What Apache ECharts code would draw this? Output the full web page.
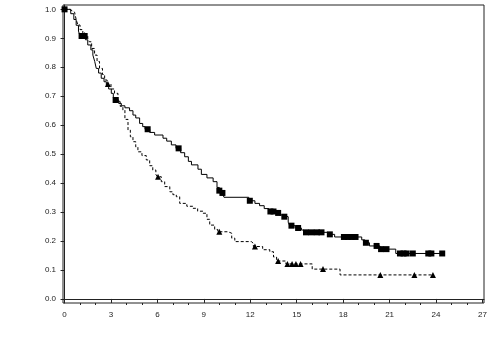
<!DOCTYPE html>
<html>
<head>
<meta charset="utf-8">
<script src="https://cdn.jsdelivr.net/npm/echarts@6/dist/echarts.min.js"></script>
<style>html,body{margin:0;padding:0;background:#fff}#c{width:494px;height:360px}</style>
</head>
<body>
<div id="c"></div>
<script>
// Group A (solid, squares): step points [time, survival]
const stepA = [
  [0,1.0],[0.4,0.985],[0.6,0.965],[0.75,0.945],[0.9,0.925],[1.0,0.908],[1.35,0.895],[1.5,0.877],
  [1.7,0.86],[1.83,0.842],[1.95,0.82],[2.05,0.796],[2.2,0.78],[2.37,0.762],[2.55,0.75],[2.7,0.739],
  [2.85,0.725],[3.02,0.71],[3.15,0.695],[3.28,0.687],[3.5,0.675],[3.67,0.667],[3.9,0.66],[4.2,0.65],
  [4.42,0.635],[4.6,0.625],[4.85,0.606],[5.05,0.595],[5.2,0.586],[5.5,0.575],[5.82,0.566],[6.36,0.555],
  [6.6,0.545],[6.9,0.532],[7.2,0.52],[7.5,0.505],[7.76,0.491],[8.0,0.475],[8.2,0.463],[8.62,0.448],
  [8.84,0.43],[9.2,0.418],[9.6,0.405],[9.85,0.385],[10.0,0.374],[10.2,0.366],[10.3,0.351],[11.9,0.339],
  [12.3,0.33],[12.6,0.322],[12.9,0.312],[13.2,0.302],[13.6,0.297],[13.85,0.29],[14.1,0.284],[14.45,0.265],
  [14.55,0.253],[14.9,0.245],[15.3,0.238],[15.45,0.23],[17.0,0.223],[17.45,0.214],[19.2,0.204],[19.4,0.194],
  [19.7,0.183],[20.38,0.172],[21.4,0.157],[24.5,0.157]
];
const censorA = [0,1.1,1.3,3.3,5.37,7.37,10.0,10.2,11.97,13.3,13.5,13.8,14.2,14.66,15.09,15.6,15.95,16.3,16.6,
  17.14,18.05,18.3,18.55,18.8,19.47,20.16,20.45,20.8,21.67,21.9,22.1,22.5,23.5,23.7,24.4];

// Group B (dashed, triangles)
const stepB = [
  [0,1.0],[0.32,0.995],[0.5,0.99],[0.65,0.984],[0.75,0.965],[0.86,0.946],[1.0,0.93],[1.18,0.911],
  [1.5,0.9],[1.6,0.888],[1.75,0.865],[1.94,0.842],[2.1,0.82],[2.26,0.796],[2.45,0.775],[2.59,0.756],
  [2.75,0.742],[3.0,0.725],[3.23,0.71],[3.45,0.681],[3.6,0.665],[3.77,0.652],[3.9,0.62],[4.1,0.583],
  [4.25,0.56],[4.42,0.543],[4.6,0.525],[4.74,0.508],[5.0,0.495],[5.28,0.48],[5.5,0.46],[5.7,0.445],
  [5.9,0.43],[6.0,0.422],[6.25,0.405],[6.47,0.388],[6.8,0.37],[7.0,0.36],[7.22,0.353],[7.44,0.33],
  [7.9,0.32],[8.3,0.313],[8.6,0.303],[8.95,0.296],[9.2,0.275],[9.38,0.255],[9.7,0.24],[9.9,0.232],
  [10.56,0.227],[10.8,0.21],[11.0,0.198],[12.07,0.192],[12.2,0.181],[12.8,0.17],[13.26,0.163],[13.5,0.145],
  [13.7,0.131],[14.3,0.121],[16.0,0.103],[17.8,0.083],[23.8,0.083]
];
const censorB = [1.3,2.8,6.04,10.0,12.3,13.8,14.4,14.7,14.95,15.25,16.7,20.4,22.6,23.8];

const xMajorTicks = [0,3,6,9,12,15,18,21,24,27];
const xMinorTicks = [1,2,4,5,7,8,10,11,13,14,16,17,19,20,22,23,25,26];
const yTicks = [0,0.1,0.2,0.3,0.4,0.5,0.6,0.7,0.8,0.9,1.0];

function survAt(steps, t) {
  let v = steps[0][1];
  for (const [st, sv] of steps) { if (st <= t + 1e-9) v = sv; else break; }
  return v;
}
const markA = censorA.map(t => [t, survAt(stepA, t)]);
const markB = censorB.map(t => [t, survAt(stepB, t)]);

const lbl = {fontFamily: 'Liberation Sans, Arial, sans-serif', fontSize: 8, color: '#222'};
const chart = echarts.init(document.getElementById('c'), null, {renderer: 'canvas'});
chart.setOption({
  animation: false,
  backgroundColor: '#fff',
  grid: {left: 63, right: 10, top: 5, bottom: 57, show: true, borderColor: '#222', borderWidth: 1, backgroundColor: 'transparent'},
  xAxis: [{
    type: 'value', min: -0.1, max: 27.1,
    axisLine: {show: true, lineStyle: {color: '#222', width: 1}},
    axisTick: {show: true, customValues: xMajorTicks, length: 4, lineStyle: {color: '#222'}},
    axisLabel: Object.assign({customValues: xMajorTicks, margin: 8, formatter: v => String(Math.round(v))}, lbl),
    splitLine: {show: false}
  }, {
    type: 'value', min: -0.1, max: 27.1, position: 'bottom',
    axisLine: {show: false},
    axisTick: {show: true, customValues: xMinorTicks, length: 2, lineStyle: {color: '#222'}},
    axisLabel: {show: false},
    splitLine: {show: false}
  }],
  yAxis: {
    type: 'value', min: -0.014, max: 1.015,
    axisLine: {show: true, lineStyle: {color: '#222', width: 1}},
    axisTick: {show: true, customValues: yTicks, length: 4, lineStyle: {color: '#222'}},
    axisLabel: Object.assign({customValues: yTicks, margin: 7, formatter: v => v.toFixed(1)}, lbl),
    splitLine: {show: false}
  },
  series: [
    {type: 'line', step: 'end', data: stepA, symbol: 'none', z: 2, lineStyle: {color: '#000', width: 1}},
    {type: 'line', step: 'end', data: stepB, symbol: 'none', z: 2, lineStyle: {color: '#000', width: 1, type: [3, 2]}},
    {type: 'scatter', data: markA, symbol: 'rect', symbolSize: 6, z: 5, itemStyle: {color: '#000', opacity: 1, borderWidth: 0}},
    {type: 'scatter', data: markB, symbol: 'triangle', symbolSize: 6, z: 5, itemStyle: {color: '#000', opacity: 1, borderWidth: 0}}
  ]
});
</script>
</body>
</html>
